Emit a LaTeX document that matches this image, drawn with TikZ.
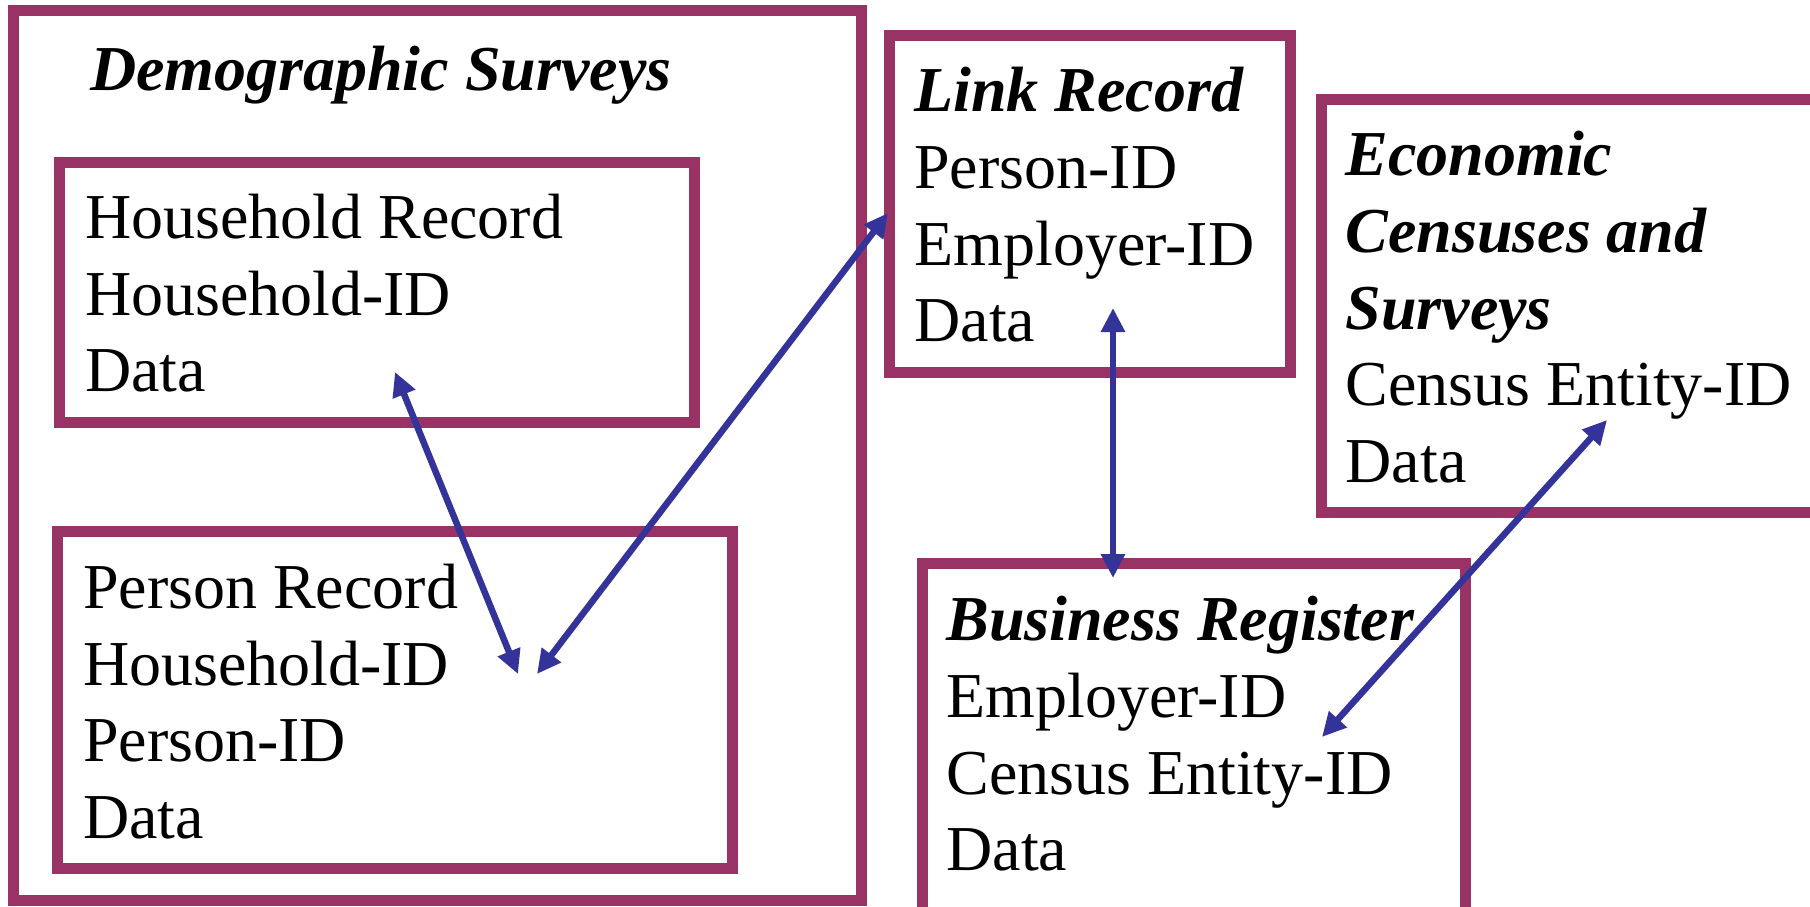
\documentclass[tikz,border=0pt]{standalone}
\usepackage{fontspec}
\setmainfont{Liberation Serif}
\usetikzlibrary{arrows.meta}
\definecolor{plum}{HTML}{993366}
\definecolor{arrowblue}{HTML}{333399}
\tikzset{
  frame/.style={draw=plum, line width=11pt, inner sep=0pt, outer sep=0pt, anchor=north west},
  txt/.style={anchor=base west, inner sep=0pt, outer sep=0pt, font=\fontsize{64}{76.7}\selectfont},
  link/.style={draw=arrowblue, line width=6.5pt, {Triangle[length=24pt,width=23pt]}-{Triangle[length=24pt,width=23pt]}}
}
\newcommand{\lines}[1]{\begin{tabular}[t]{@{}l@{}}#1\end{tabular}}
\begin{document}
\begin{tikzpicture}[x=1pt,y=-1pt]
\useasboundingbox (0,0) rectangle (1810,906);
\clip (0,0) rectangle (1810,906);
% boxes
\node[frame, minimum width=848pt, minimum height=890pt] (demo) at (13,10) {};
\node[frame, minimum width=635.6pt, minimum height=260.5pt] (hh) at (59,162) {};
\node[frame, minimum width=674.5pt, minimum height=337pt] (pers) at (57.5,531.7) {};
\node[frame, minimum width=400.5pt, minimum height=337.5pt] (lnk) at (889.5,35) {};
\node[frame, minimum width=520pt, minimum height=413pt] (econ) at (1321.3,99.8) {};
\node[frame, minimum width=543pt, minimum height=350pt] (bus) at (922,563.5) {};
% texts
\node[txt] (demot) at (90,90.7) {\textbf{\textit{Demographic Surveys}}};
\node[txt] (hht) at (85,238.3) {\lines{Household Record\\Household-ID\\Data}};
\node[txt] (perst) at (83,608.3) {\lines{Person Record\\Household-ID\\Person-ID\\Data}};
\node[txt] (lnkt) at (914.4,111.7) {\lines{\textbf{\textit{Link Record}}\\Person-ID\\Employer-ID\\Data}};
\node[txt] (econt) at (1345.6,175.7) {\lines{\textbf{\textit{Economic}}\\\textbf{\textit{Censuses and}}\\\textbf{\textit{Surveys}}\\Census Entity-ID\\Data}};
\node[txt] (bust) at (946.4,640.7) {\lines{\textbf{\textit{Business Register}}\\Employer-ID\\Census Entity-ID\\Data}};
% connector ends
\coordinate (hhend) at (395,372);
\coordinate (persA) at (518,674);
\coordinate (persB) at (537,674);
\coordinate (lnkA) at (888,213);
\coordinate (lnkB) at (1113,308);
\coordinate (busA) at (1113,578);
\coordinate (econA) at (1607,420);
\coordinate (busB) at (1322,737);
% connectors
\draw[link] (hhend) -- (persA);
\draw[link] (persB) -- (lnkA);
\draw[link] (lnkB) -- (busA);
\draw[link] (econA) -- (busB);
\end{tikzpicture}
\end{document}
